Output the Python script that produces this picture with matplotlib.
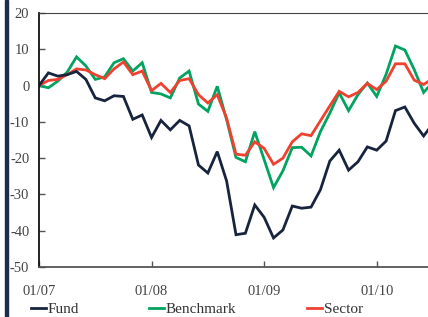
import matplotlib
matplotlib.use("Agg")
import matplotlib.pyplot as plt
from matplotlib.patches import Rectangle

# monthly values from 01/07, percent
fund = [0, 3.5, 2.6, 3.0, 3.9, 1.7, -3.4, -4.2, -2.8, -3.0, -9.3, -8.1, -14.3, -9.6,
        -12.2, -9.6, -11.1, -21.9, -24.1, -18.2, -26.3, -41.1, -40.7, -32.9, -36.3, -42.0,
        -39.8, -33.2, -33.8, -33.5, -28.7, -20.8, -17.8, -23.3, -21.0, -16.9, -17.8, -15.3,
        -6.9, -5.9, -10.4, -13.9, -10.5]
benchmark = [0, -0.6, 1.2, 3.7, 7.9, 5.4, 1.7, 2.4, 6.3, 7.4, 4.0, 6.3, -1.9, -2.3,
             -3.4, 2.1, 4.0, -5.1, -7.1, -0.2, -9.4, -19.8, -21.0, -12.7, -20.4, -28.1,
             -23.5, -17.1, -17.0, -19.4, -12.7, -7.6, -2.0, -6.9, -2.5, 0.7, -3.0, 3.1,
             10.9, 9.8, 4.4, -1.9, 1.0]
sector = [0, 1.4, 1.7, 3.0, 4.6, 4.3, 3.0, 1.9, 4.6, 6.5, 3.0, 4.0, -1.4, 0.6,
          -1.9, 1.4, 1.9, -2.5, -4.8, -2.5, -9.0, -18.9, -19.2, -15.5, -17.3, -21.7,
          -20.0, -15.5, -13.3, -13.8, -9.7, -5.6, -1.6, -3.1, -1.9, 0.6, -1.1, 1.2,
          6.0, 6.0, 1.5, 0.3, 2.0]
xticklabels = ["01/07", "01/08", "01/09", "01/10"]
yticks = [20, 10, 0, -10, -20, -30, -40, -50]

plt.rcParams['font.family'] = ['Liberation Serif', 'DejaVu Serif']

fig = plt.figure(figsize=(4.28, 3.17), dpi=100)
ax = fig.add_axes([39/428, 50/317, 394/428, 254/317])

months = range(len(fund))
ax.plot(months, benchmark, color="#00a35f", lw=2, label="Benchmark", solid_joinstyle="miter")
ax.plot(months, sector, color="#ef4130", lw=2, label="Sector", solid_joinstyle="miter")
ax.plot(months, fund, color="#18243d", lw=2, label="Fund", solid_joinstyle="miter")

ax.set_xlim(0, 42)
ax.set_ylim(-50, 20)
ax.set_yticks(yticks)
ax.set_yticklabels([str(v) for v in yticks])
ax.set_xticks([0, 12, 24, 36])
ax.set_xticklabels(xticklabels)
ax.tick_params(axis="both", direction="in", length=4, width=1, color="#555555",
               labelsize=10.5, labelcolor="#444444")
ax.tick_params(axis="y", pad=7)
ax.tick_params(axis="x", pad=13)
ax.spines["right"].set_visible(False)
ax.spines["left"].set_color("#111111")
ax.spines["left"].set_linewidth(1.3)
ax.spines["top"].set_color("#444444")
ax.spines["bottom"].set_color("#555555")
ax.spines["bottom"].set_linewidth(1.3)

# left navy bar
fig.patches.append(Rectangle((5/428, 0), 3/428, 1, transform=fig.transFigure,
                             color="#1c2c4c", zorder=0))

h, l = ax.get_legend_handles_labels()
order = [2, 0, 1]
fig.legend([h[i] for i in order], [l[i] for i in order], ncol=3,
           loc="lower left", bbox_to_anchor=(17/428, -13/317), frameon=False,
           fontsize=11, handlelength=1.0, handletextpad=0.1, columnspacing=4.6,
           labelcolor="#333333")

fig.savefig("out.png", dpi=100)
